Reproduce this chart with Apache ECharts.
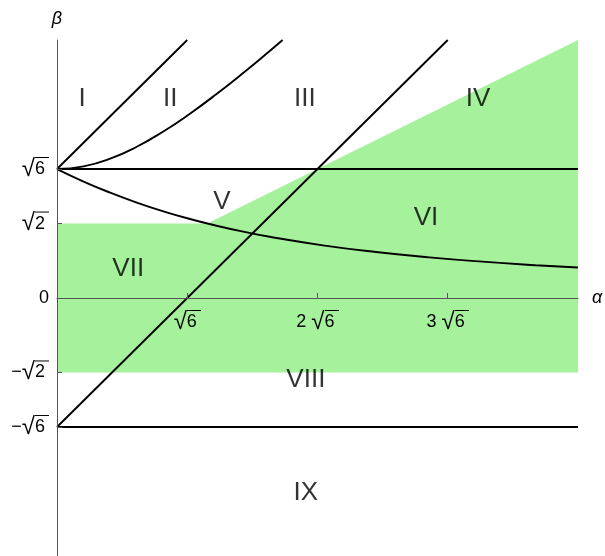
<!DOCTYPE html>
<html>
<head>
<meta charset="utf-8">
<script src="https://cdn.jsdelivr.net/npm/echarts@6/dist/echarts.min.js"></script>
<style>
  html, body { margin: 0; padding: 0; background: #fff; }
  #chart { width: 605px; height: 556px; }
</style>
</head>
<body>
<div id="chart"></div>
<script>
// tick positions (multiples of sqrt 6 / sqrt 2)
var R6 = 2.449
var R2 = 1.414
var xTicks = [2.449, 4.898, 7.347]
var xTickLabels = ['{r|√}{o|6}', '{d|2 }{r|√}{o|6}', '{d|3 }{r|√}{o|6}']
var yTicks = [-R6, -R2, 0, R2, R6]
var yTickLabels = ['{d|−}{r|√}{o|6}', '{d|−}{r|√}{o|2}', '{d|0}', '{r|√}{o|2}', '{r|√}{o|6}']

// straight boundaries
var lineUpper = [[0, 2.449], [2.449, 4.899]]
var lineDiag = [[0, -2.449], [7.348, 4.899]]
var lineTop = [[0, 2.449], [9.798, 2.449]]
var lineBottom = [[0, -2.449], [9.798, -2.449]]

// curved boundaries
var curveRise = [[0, 2.449], [0.5, 2.5], [1, 2.646], [1.5, 2.872], [2, 3.162], [2.5, 3.5],
  [3, 3.873], [3.5, 4.272], [4, 4.69], [4.243, 4.899]]
var curveFall = [[0, 2.449], [0.5, 2.212], [1, 2.0], [1.5, 1.812], [2, 1.646], [2.5, 1.5],
  [3, 1.372], [3.5, 1.26], [4, 1.162], [5, 1.0], [6, 0.873], [7, 0.772], [8, 0.69],
  [9, 0.623], [9.798, 0.578]]

// shaded region outline
var greenRegion = [[0, -1.414], [9.798, -1.414], [9.798, 4.899], [2.828, 1.414], [0, 1.414]]

// region names and where they sit
var regionNames = ['I', 'II', 'III', 'IV', 'V', 'VI', 'VII', 'VIII', 'IX']
var regionAlpha = [0.47, 2.13, 4.66, 7.92, 3.1, 6.94, 1.34, 4.68, 4.68]
var regionBeta = [3.78, 3.78, 3.78, 3.78, 1.82, 1.53, 0.55, -1.55, -3.69]

var font = 'Liberation Sans, Arial, sans-serif'

// overline for the radicand, used as a stretched background
var bar = document.createElement('canvas')
bar.width = 4
bar.height = 24
var ctx = bar.getContext('2d')
ctx.fillStyle = '#000'
ctx.fillRect(0, 0, 4, 1)

var rich = {
  d: { fontFamily: font, fontSize: 18, color: '#000', lineHeight: 24 },
  r: { fontFamily: font, fontSize: 24, color: '#000', lineHeight: 24 },
  o: {
    fontFamily: font,
    fontSize: 18,
    color: '#000',
    height: 24,
    lineHeight: 24,
    padding: [0, 4, 0, 0],
    backgroundColor: { image: bar }
  }
}

function lineSeries (data) {
  return {
    type: 'line',
    data: data,
    showSymbol: false,
    silent: true,
    smooth: data.length > 2,
    lineStyle: { color: '#000', width: 1.9 },
    z: 3
  }
}

var labelData = regionNames.map(function (n, i) {
  return { name: n, value: [regionAlpha[i], regionBeta[i]] }
})

function tickFormatter (ticks, labels) {
  return function (v) {
    for (var i = 0; i < ticks.length; i++) {
      if (Math.abs(ticks[i] - v) < 1e-3) return labels[i]
    }
    return ''
  }
}

var option = {
  animation: false,
  grid: { left: 57, right: 27, top: 40, bottom: 0, containLabel: false, outerBoundsMode: 'none' },
  xAxis: {
    type: 'value',
    min: 0,
    max: 9.798,
    z: 10,
    position: 'bottom',
    offset: -258,
    name: 'α',
    nameGap: 14,
    nameTextStyle: { fontFamily: font, fontStyle: 'italic', fontSize: 18, color: '#000', padding: [4, 0, 0, 0] },
    splitLine: { show: false },
    axisLine: { show: true, onZero: false, lineStyle: { color: '#555', width: 1 } },
    axisTick: { show: true, inside: true, length: 5, customValues: xTicks, lineStyle: { color: '#555' } },
    axisLabel: {
      show: true,
      customValues: xTicks,
      hideOverlap: false,
      margin: 12,
      color: '#000',
      rich: rich,
      formatter: tickFormatter(xTicks, xTickLabels)
    }
  },
  yAxis: {
    type: 'value',
    min: -4.899,
    max: 4.899,
    z: 10,
    name: 'β',
    nameGap: 12,
    nameTextStyle: { fontFamily: font, fontStyle: 'italic', fontSize: 18, color: '#000', align: 'center' },
    splitLine: { show: false },
    axisLine: { show: true, onZero: false, lineStyle: { color: '#555', width: 1 } },
    axisTick: { show: true, inside: true, length: 5, customValues: yTicks, lineStyle: { color: '#555' } },
    axisLabel: {
      customValues: yTicks,
      margin: 8,
      color: '#000',
      rich: rich,
      formatter: tickFormatter(yTicks, yTickLabels)
    }
  },
  series: [
    {
      type: 'custom',
      silent: true,
      z: 1,
      renderItem: function (params, api) {
        var pts = greenRegion.map(function (p) { return api.coord(p) })
        return { type: 'polygon', shape: { points: pts }, style: { fill: '#a6f19b' } }
      },
      data: [0]
    },
    lineSeries(lineUpper),
    lineSeries(lineDiag),
    lineSeries(lineTop),
    lineSeries(lineBottom),
    lineSeries(curveRise),
    lineSeries(curveFall),
    {
      type: 'scatter',
      data: labelData,
      symbolSize: 0,
      silent: true,
      z: 5,
      label: {
        show: true,
        position: 'inside',
        formatter: '{b}',
        fontFamily: font,
        fontSize: 26,
        color: '#000'
      }
    }
  ]
}

var myChart = echarts.init(document.getElementById('chart'))
myChart.setOption(option)
</script>
</body>
</html>
